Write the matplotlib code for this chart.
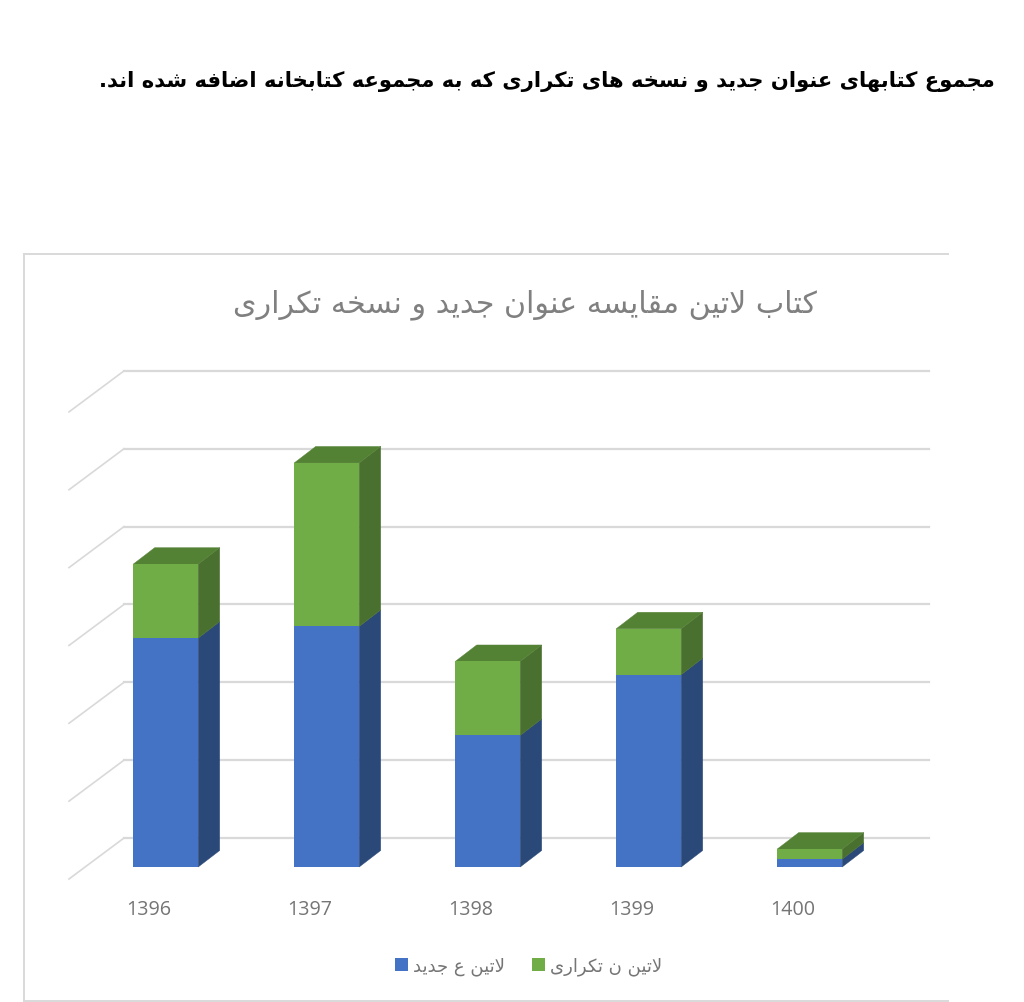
import matplotlib
matplotlib.use("Agg")
import matplotlib.pyplot as plt
from matplotlib.patches import Polygon
import numpy as np

# chart values (the y axis has no labels, 1 = one gridline step)
years = ["1396", "1397", "1398", "1399", "1400"]
new_titles = [2.94, 3.09, 1.69, 2.47, 0.10]
repeat_copies = [0.95, 2.10, 0.95, 0.59, 0.13]
grid_values = [0, 1, 2, 3, 4, 5, 6]

page_title = "مجموع کتابهای عنوان جدید و نسخه های تکراری که به مجموعه کتابخانه اضافه شده اند."
chart_title = "کتاب لاتین مقایسه عنوان جدید و نسخه تکراری"
new_label = "لاتین ع جدید"
repeat_label = "لاتین ن تکراری"

# colours
BLUE, BLUE_SIDE = "#4472C4", "#2A4878"
GREEN, GREEN_SIDE, GREEN_TOP = "#70AD47", "#4A702F", "#548235"
GRID = "#D9D9D9"
TEXT = "#757575"

# pixel geometry of the fake 3D box
W, H = 1024, 1003
PX_X, PX_Y = 161.0, 77.85  # pixels per category / per value
X0, Y0 = 165.7, 867.0      # first bar centre, bar baseline
BAR_DX, BAR_DY = 21.5 / PX_X, 16.5 / PX_Y
WALL_DX, WALL_DY = 55 / PX_X, 41 / PX_Y
BACK_Y = 29 / PX_Y         # back wall zero sits above the bar baseline
BAR_WIDTH = 65 / PX_X

# matplotlib has no arabic shaping, so pick the presentation forms by hand
FORMS = {
    "ا": (0xFE8D, 0xFE8E), "د": (0xFEA9, 0xFEAA), "ر": (0xFEAD, 0xFEAE), "و": (0xFEED, 0xFEEE),
    "ب": (0xFE8F, 0xFE90, 0xFE91, 0xFE92), "ت": (0xFE95, 0xFE96, 0xFE97, 0xFE98),
    "ج": (0xFE9D, 0xFE9E, 0xFE9F, 0xFEA0), "خ": (0xFEA5, 0xFEA6, 0xFEA7, 0xFEA8),
    "س": (0xFEB1, 0xFEB2, 0xFEB3, 0xFEB4), "ش": (0xFEB5, 0xFEB6, 0xFEB7, 0xFEB8),
    "ض": (0xFEBD, 0xFEBE, 0xFEBF, 0xFEC0), "ع": (0xFEC9, 0xFECA, 0xFECB, 0xFECC),
    "ف": (0xFED1, 0xFED2, 0xFED3, 0xFED4), "ق": (0xFED5, 0xFED6, 0xFED7, 0xFED8),
    "ل": (0xFEDD, 0xFEDE, 0xFEDF, 0xFEE0), "م": (0xFEE1, 0xFEE2, 0xFEE3, 0xFEE4),
    "ن": (0xFEE5, 0xFEE6, 0xFEE7, 0xFEE8), "ه": (0xFEE9, 0xFEEA, 0xFEEB, 0xFEEC),
    "ک": (0xFB8E, 0xFB8F, 0xFB90, 0xFB91), "ی": (0xFBFC, 0xFBFD, 0xFBFE, 0xFBFF),
}


def shape(text):
    text = text.replace("لا", "\uE000")  # lam-alef ligature placeholder
    out = []
    for i, ch in enumerate(text):
        prev_ch = text[i - 1] if i > 0 else " "
        next_ch = text[i + 1] if i + 1 < len(text) else " "
        joins_prev = prev_ch in FORMS and len(FORMS[prev_ch]) == 4
        if ch == "\uE000":
            out.append(chr(0xFEFC if joins_prev else 0xFEFB))
        elif ch in FORMS:
            forms = FORMS[ch]
            joins_next = len(forms) == 4 and (next_ch in FORMS or next_ch == "\uE000")
            if joins_prev and joins_next:
                out.append(chr(forms[3]))
            elif joins_prev:
                out.append(chr(forms[1]))
            elif joins_next:
                out.append(chr(forms[2]))
            else:
                out.append(chr(forms[0]))
        else:
            out.append(ch)
    return "".join(reversed(out))


fig = plt.figure(figsize=(W / 100, H / 100), dpi=100, facecolor="white")
# the +1 keeps the spines on the same pixel rows as the original
ax = fig.add_axes([24 / W, 1 - 1002 / H, (948 - 24) / W, (1002 - 255) / H])
ax.set_xlim((24 - X0) / PX_X, (948 - X0) / PX_X)
ax.set_ylim((Y0 - 1001) / PX_Y, (Y0 - 254) / PX_Y)
ax.set_xticks([])
ax.set_yticks([])
ax.spines["right"].set_visible(False)
for side in ["left", "top", "bottom"]:
    ax.spines[side].set_color(GRID)
    ax.spines[side].set_linewidth(1.4)

# back wall lines and the slanted lines on the side wall
grid_left = (124 - X0) / PX_X
grid_right = (929 - X0) / PX_X
for v in grid_values:
    y = v + BACK_Y
    ax.plot([grid_left - WALL_DX, grid_left], [y - WALL_DY, y],
            color=GRID, lw=1.2, zorder=1)
    ax.plot([grid_left, grid_right], [y, y], color=GRID, lw=1.6, zorder=1)

x = np.arange(len(years))
new_titles = np.array(new_titles)
repeat_copies = np.array(repeat_copies)
totals = new_titles + repeat_copies

bars_new = ax.bar(x, new_titles, BAR_WIDTH, color=BLUE, zorder=3, label=shape(new_label))
bars_rep = ax.bar(x, repeat_copies, BAR_WIDTH, bottom=new_titles, color=GREEN, zorder=3,
                  label=shape(repeat_label))

# side and top faces
for i in x:
    r = i + BAR_WIDTH / 2
    l = i - BAR_WIDTH / 2
    for lo, hi, col in [(0, new_titles[i], BLUE_SIDE), (new_titles[i], totals[i], GREEN_SIDE)]:
        ax.add_patch(Polygon([(r, lo), (r + BAR_DX, lo + BAR_DY), (r + BAR_DX, hi + BAR_DY), (r, hi)],
                             closed=True, facecolor=col, edgecolor=col, lw=0.3, zorder=2))
    top = totals[i]
    ax.add_patch(Polygon([(l, top), (r, top), (r + BAR_DX, top + BAR_DY), (l + BAR_DX, top + BAR_DY)],
                         closed=True, facecolor=GREEN_TOP, edgecolor=GREEN_TOP, lw=0.3, zorder=2))

# year labels sit left of the bar centres in the original
for i, year in zip(x, years):
    ax.text(i - 16.5 / PX_X, (Y0 - 909) / PX_Y, year, ha="center", va="center",
            fontsize=14.2, color=TEXT, family="Open Sans")

ax.text(0.5417, (1001 - 304) / (1001 - 254), shape(chart_title), transform=ax.transAxes,
        ha="center", va="center", fontsize=21.7, color="#808080", family="DejaVu Sans")

ax.legend(handles=[bars_new, bars_rep], loc="center", bbox_to_anchor=(0.5465, 0.047),
          ncol=2, frameon=False, fontsize=13.0, handlelength=0.72, handleheight=0.72,
          handletextpad=0.28, columnspacing=1.5, labelcolor=TEXT, borderpad=0)

head = fig.text(547 / W, 1 - 82 / H, shape(page_title), ha="center", va="center",
                fontsize=19, fontweight="bold", color="black", family="DejaVu Sans")
# the heading should run from about x=97 to x=997
width = head.get_window_extent(fig.canvas.get_renderer()).width
head.set_fontsize(19 * 900 / width)

fig.savefig("out.png", dpi=100, facecolor="white")
